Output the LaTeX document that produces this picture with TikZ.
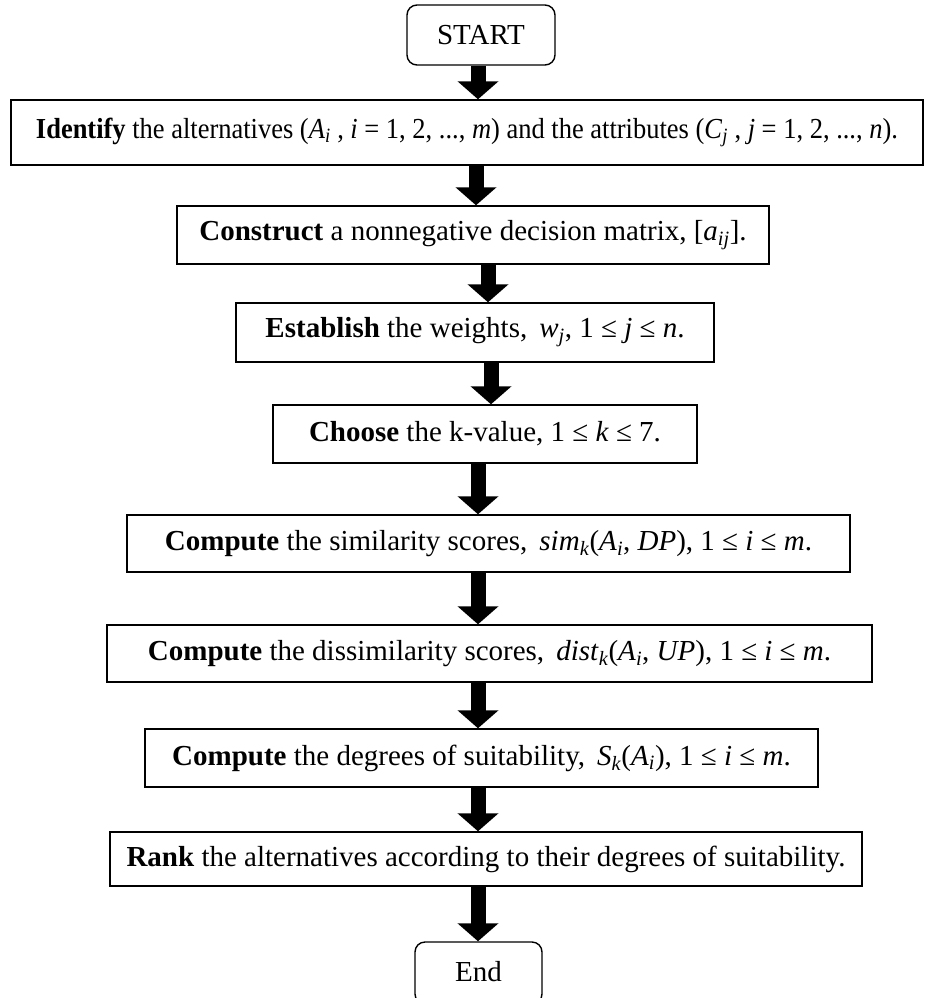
\documentclass[tikz,border=0pt]{standalone}
\usepackage{fontspec}
\setmainfont{Liberation Serif}
\usetikzlibrary{arrows.meta}
\newcommand{\mi}[1]{\textit{#1}}
\newcommand{\msb}[1]{\textsubscript{\textit{#1}}}
\tikzset{
  box/.style={draw, line width=1.4pt, inner sep=0pt, align=center,
    font=\fontsize{29}{34}\selectfont},
  term/.style={box, rounded corners=10pt},
  bigarrow/.style={line width=15pt, -{Triangle[width=40pt,length=18pt]}}
}
\begin{document}
\begin{tikzpicture}[x=1pt,y=-1pt]
\useasboundingbox (0,0) rectangle (927,998);
\node[term, minimum width=148pt, minimum height=60pt] (start) at (481,35) {START};
\node[box, minimum width=912pt, minimum height=65pt] (ident) at (467,132.5)
  {\scalebox{0.913}[1]{\textbf{Identify} the alternatives (\mi{A}\msb{i} , \mi{i} = 1, 2, ..., \mi{m}) and the attributes (\mi{C}\msb{j} , \mi{j} = 1, 2, ..., \mi{n}).}};
\node[box, minimum width=592pt, minimum height=58pt] (constr) at (473,235)
  {\textbf{Construct} a nonnegative decision matrix, [\mi{a}\msb{ij}].};
\node[box, minimum width=478pt, minimum height=59pt] (estab) at (475,332.5)
  {\textbf{Establish} the weights,\, \mi{w}\msb{j}, 1 ≤ \mi{j} ≤ \mi{n}.};
\node[box, minimum width=424pt, minimum height=58pt] (choose) at (485,434)
  {\textbf{Choose} the k-value, 1 ≤ \mi{k} ≤ 7.};
\node[box, minimum width=723pt, minimum height=57pt] (sim) at (488.5,543.5)
  {\textbf{Compute} the similarity scores,\, \mi{sim}\msb{k}(\mi{A}\msb{i}, \mi{DP}), 1 ≤ \mi{i} ≤ \mi{m}.};
\node[box, minimum width=765pt, minimum height=57pt] (dist) at (489.5,653.5)
  {\textbf{Compute} the dissimilarity scores,\, \mi{dist}\msb{k}(\mi{A}\msb{i}, \mi{UP}), 1 ≤ \mi{i} ≤ \mi{m}.};
\node[box, minimum width=673pt, minimum height=58pt] (degr) at (481.5,758)
  {\textbf{Compute} the degrees of suitability,\, \mi{S}\msb{k}(\mi{A}\msb{i}), 1 ≤ \mi{i} ≤ \mi{m}.};
\node[box, minimum width=752pt, minimum height=54pt] (rank) at (486,859)
  {\textbf{Rank} the alternatives according to their degrees of suitability.};
\node[term, minimum width=127pt, minimum height=62pt, text depth=0pt] (end) at (478.5,973) {\raisebox{4pt}{End}};
\coordinate (ax) at (478,0);
\coordinate (bx) at (476,0);
\coordinate (cx) at (488,0);
\coordinate (dx) at (491,0);
\draw[bigarrow] (start.south -| ax) -- (ident.north -| ax);
\draw[bigarrow] (ident.south -| bx) -- (constr.north -| bx);
\draw[bigarrow] (constr.south -| cx) -- (estab.north -| cx);
\draw[bigarrow] (estab.south -| dx) -- (choose.north -| dx);
\draw[bigarrow] (choose.south -| ax) -- (sim.north -| ax);
\draw[bigarrow] (sim.south -| ax) -- (dist.north -| ax);
\draw[bigarrow] (dist.south -| ax) -- (degr.north -| ax);
\draw[bigarrow] (degr.south -| ax) -- (rank.north -| ax);
\draw[bigarrow] (rank.south -| ax) -- (end.north -| ax);
\end{tikzpicture}
\end{document}
